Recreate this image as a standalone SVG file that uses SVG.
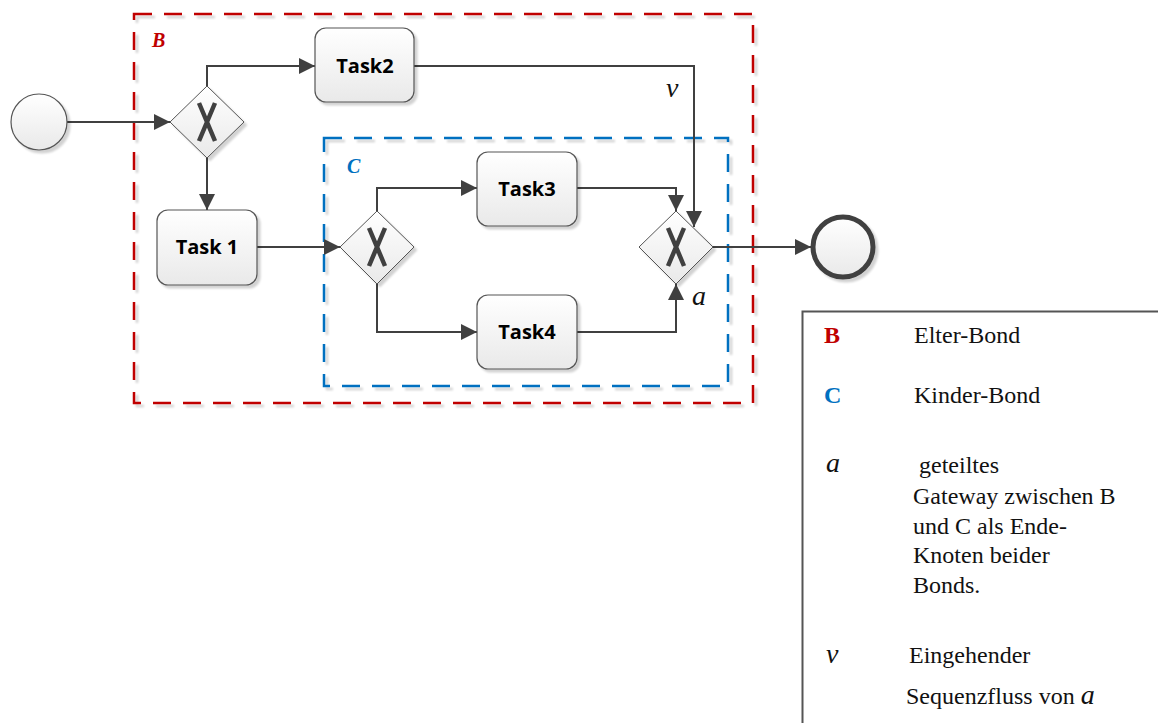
<svg xmlns="http://www.w3.org/2000/svg" width="1158" height="723" viewBox="0 0 1158 723">
<defs>
  <linearGradient id="gBox" x1="0" y1="0" x2="0" y2="1">
    <stop offset="0" stop-color="#ffffff"/>
    <stop offset="1" stop-color="#e9e9e9"/>
  </linearGradient>
  <filter id="sh" x="-20%" y="-20%" width="150%" height="150%">
    <feGaussianBlur in="SourceAlpha" stdDeviation="1.2" result="b"/>
    <feOffset in="b" dx="3" dy="3" result="o"/>
    <feComponentTransfer in="o" result="s"><feFuncA type="linear" slope="0.18"/></feComponentTransfer>
    <feMerge><feMergeNode in="s"/><feMergeNode in="SourceGraphic"/></feMerge>
  </filter>
  <marker id="arr" viewBox="0 0 16 16" refX="16" refY="8" markerWidth="16" markerHeight="16" markerUnits="userSpaceOnUse" orient="auto">
    <path d="M0,0 L16,8 L0,16 Z" fill="#404040"/>
  </marker>
  <style>
    .task{fill:url(#gBox);stroke:#555;stroke-width:1.2;filter:url(#sh)}
    .gw{fill:url(#gBox);stroke:#555;stroke-width:1;filter:url(#sh)}
    .x{stroke:#404040;stroke-width:4.5;fill:none}
    .tl{font-family:"Open Sans","Liberation Sans",sans-serif;font-weight:bold;font-size:20px;fill:#000;text-anchor:middle}
    .con{fill:none;stroke:#404040;stroke-width:2}
    .bond{fill:none;stroke-width:2.5;stroke-dasharray:18 12;filter:url(#sh)}
    .lg{font-family:"Liberation Serif",serif;font-size:24px;fill:#111}
    .mi{font-family:"Liberation Serif",serif;font-style:italic;font-size:28px;fill:#111}
    .key{font-family:"Liberation Serif",serif;font-weight:bold;font-size:24px}
  </style>
</defs>
<rect width="1158" height="723" fill="#ffffff"/>

<g id="bondB">
  <rect x="134" y="14" width="619" height="389" class="bond" stroke="#C00000"/>
  <text x="152" y="47" font-family="Liberation Serif,serif" font-weight="bold" font-style="italic" font-size="20" fill="#C00000">B</text>
</g>
<g id="bondC">
  <rect x="324" y="138" width="404" height="248" class="bond" stroke="#0070C0"/>
  <text x="347" y="173" font-family="Liberation Serif,serif" font-weight="bold" font-style="italic" font-size="20" fill="#0070C0">C</text>
</g>

<g id="connectors">
  <path class="con" d="M67,122 L170,122" marker-end="url(#arr)"/>
  <path class="con" d="M207,86 L207,66 L315,66" marker-end="url(#arr)"/>
  <path class="con" d="M207,158 L207,210" marker-end="url(#arr)"/>
  <path class="con" d="M257,247 L340,247" marker-end="url(#arr)"/>
  <path class="con" d="M377,211 L377,188 L477,188" marker-end="url(#arr)"/>
  <path class="con" d="M377,284 L377,332 L477,332" marker-end="url(#arr)"/>
  <path class="con" d="M577,188 L676,188 L676,211" marker-end="url(#arr)"/>
  <path class="con" d="M577,332 L676,332 L676,284" marker-end="url(#arr)"/>
  <path class="con" d="M414,66 L694,66 L694,227" marker-end="url(#arr)"/>
  <path class="con" d="M713,247 L811,247" marker-end="url(#arr)"/>
</g>

<g id="start">
  <circle cx="39" cy="122" r="28" fill="url(#gBox)" stroke="#555" stroke-width="1.2" filter="url(#sh)"/>
</g>
<g id="gateway1">
  <polygon class="gw" points="207,86 244,122 207,158 170,122"/>
  <path class="x" d="M199,103 L215,141 M215,103 L199,141"/>
</g>
<g id="task2">
  <rect class="task" x="315" y="28" width="99" height="74" rx="11"/>
  <text class="tl" x="365" y="73">Task2</text>
</g>
<g id="task1">
  <rect class="task" x="157" y="210" width="100" height="75" rx="11"/>
  <text class="tl" x="207" y="254">Task 1</text>
</g>
<g id="gateway2">
  <polygon class="gw" points="377,211 414,247 377,284 340,247"/>
  <path class="x" d="M369,228 L385,266 M385,228 L369,266"/>
</g>
<g id="task3">
  <rect class="task" x="477" y="152" width="100" height="74" rx="11"/>
  <text class="tl" x="527" y="196">Task3</text>
</g>
<g id="task4">
  <rect class="task" x="477" y="295" width="100" height="74" rx="11"/>
  <text class="tl" x="527" y="339">Task4</text>
</g>
<g id="gateway3">
  <polygon class="gw" points="676,211 713,247 676,284 639,247"/>
  <path class="x" d="M668,228 L684,266 M684,228 L668,266"/>
</g>
<g id="end">
  <circle cx="843" cy="247" r="30" fill="url(#gBox)" stroke="#404040" stroke-width="5" filter="url(#sh)"/>
</g>
<g id="labels">
  <text class="mi" x="666" y="97">v</text>
  <text class="mi" x="692" y="305">a</text>
</g>

<g id="legend">
  <rect x="802.5" y="311.5" width="370" height="430" fill="#ffffff" stroke="#555" stroke-width="2" filter="url(#sh)"/>
  <text class="key" x="824" y="343" fill="#C00000">B</text>
  <text class="lg" x="914" y="343">Elter-Bond</text>
  <text class="key" x="824" y="403" fill="#0070C0">C</text>
  <text class="lg" x="914" y="403">Kinder-Bond</text>
  <text class="mi" x="826" y="472">a</text>
  <text class="lg" x="919" y="473">geteiltes</text>
  <text class="lg" x="913" y="504">Gateway zwischen B</text>
  <text class="lg" x="913" y="534">und C als Ende-</text>
  <text class="lg" x="913" y="563">Knoten beider</text>
  <text class="lg" x="913" y="593">Bonds.</text>
  <text class="mi" x="826" y="663">v</text>
  <text class="lg" x="909" y="663">Eingehender</text>
  <text class="lg" x="906" y="704">Sequenzfluss von <tspan font-style="italic" font-size="28">a</tspan></text>
</g>
</svg>
